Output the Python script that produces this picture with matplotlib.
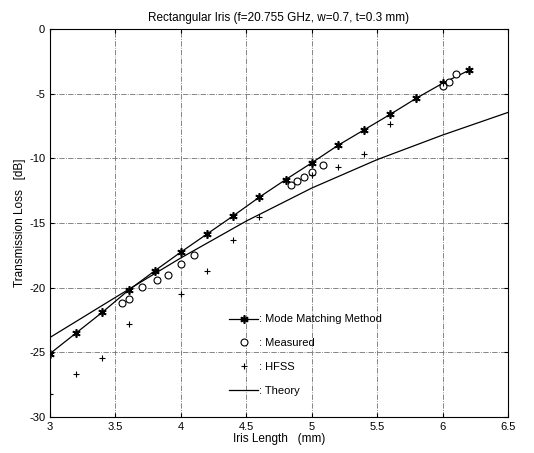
import matplotlib
matplotlib.use("Agg")
import matplotlib.pyplot as plt

plt.rcParams['font.family'] = ['Liberation Sans', 'DejaVu Sans']

# Mode Matching Method
mm_x = [3.0, 3.2, 3.4, 3.6, 3.8, 4.0, 4.2, 4.4, 4.6, 4.8, 5.0, 5.2, 5.4, 5.6, 5.8, 6.0, 6.2]
mm_y = [-25.1, -23.5, -21.9, -20.2, -18.7, -17.25, -15.85, -14.45, -13.0, -11.65, -10.35, -9.0, -7.8, -6.6, -5.35, -4.2, -3.2]

# Measured
meas_x = [3.55, 3.6, 3.7, 3.82, 3.9, 4.0, 4.1, 4.84, 4.89, 4.94, 5.0, 5.09, 6.0, 6.05, 6.1]
meas_y = [-21.2, -20.9, -19.95, -19.4, -19.0, -18.2, -17.5, -12.1, -11.75, -11.45, -11.05, -10.55, -4.4, -4.1, -3.5]

# HFSS
hfss_x = [3.0, 3.2, 3.4, 3.6, 4.0, 4.2, 4.4, 4.6, 5.0, 5.2, 5.4, 5.6, 6.0]
hfss_y = [-28.2, -26.7, -25.4, -22.8, -20.5, -18.7, -16.35, -14.55, -11.3, -10.65, -9.7, -7.35, -4.2]

# Theory
th_x = [3.0, 3.5, 4.0, 4.5, 5.0, 5.5, 6.0, 6.5]
th_y = [-23.85, -20.75, -17.7, -14.85, -12.3, -10.1, -8.2, -6.45]

xticks = [3, 3.5, 4, 4.5, 5, 5.5, 6, 6.5]
yticks = [0, -5, -10, -15, -20, -25, -30]

fig = plt.figure(figsize=(5.34, 4.53), dpi=100)
ax = fig.add_axes([50/534, 1-417/453, 458/534, 388/453])

ax.plot(mm_x, mm_y, color='black', lw=0.9, marker=(6, 2, 0), ms=6, mew=1.2,
        label=': Mode Matching Method')
ax.plot(meas_x, meas_y, ls='none', marker='o', ms=5, mfc='white', mec='black', mew=0.8,
        label=': Measured')
ax.plot(hfss_x, hfss_y, ls='none', marker='+', ms=5, color='black', mew=0.8,
        label=': HFSS')
ax.plot(th_x, th_y, color='black', lw=0.9, label=': Theory')

ax.set_xlim(3, 6.5)
ax.set_ylim(-30, 0)
ax.set_xticks(xticks)
ax.set_xticklabels([('%g' % t) for t in xticks])
ax.set_yticks(yticks)
ax.set_yticklabels([('%g' % t) for t in yticks])
ax.tick_params(direction='in', length=3, labelsize=8, top=True, right=True)
ax.grid(True, color='0.45', ls='-.', lw=0.6)
for s in ax.spines.values():
    s.set_linewidth(0.8)

ax.set_title('Rectangular Iris (f=20.755 GHz, w=0.7, t=0.3 mm)', fontsize=8.5, pad=6)
ax.set_xlabel('Iris Length   (mm)', fontsize=8.5, labelpad=1)
ax.set_ylabel('Transmission Loss   [dB]', fontsize=8.5, labelpad=2)

leg = ax.legend(loc='upper left', bbox_to_anchor=(0.37, 0.29), frameon=False,
                fontsize=8, labelspacing=1.25, handlelength=2.6, handletextpad=0.1)
leg.set_zorder(5)

fig.savefig('out.png', dpi=100)
